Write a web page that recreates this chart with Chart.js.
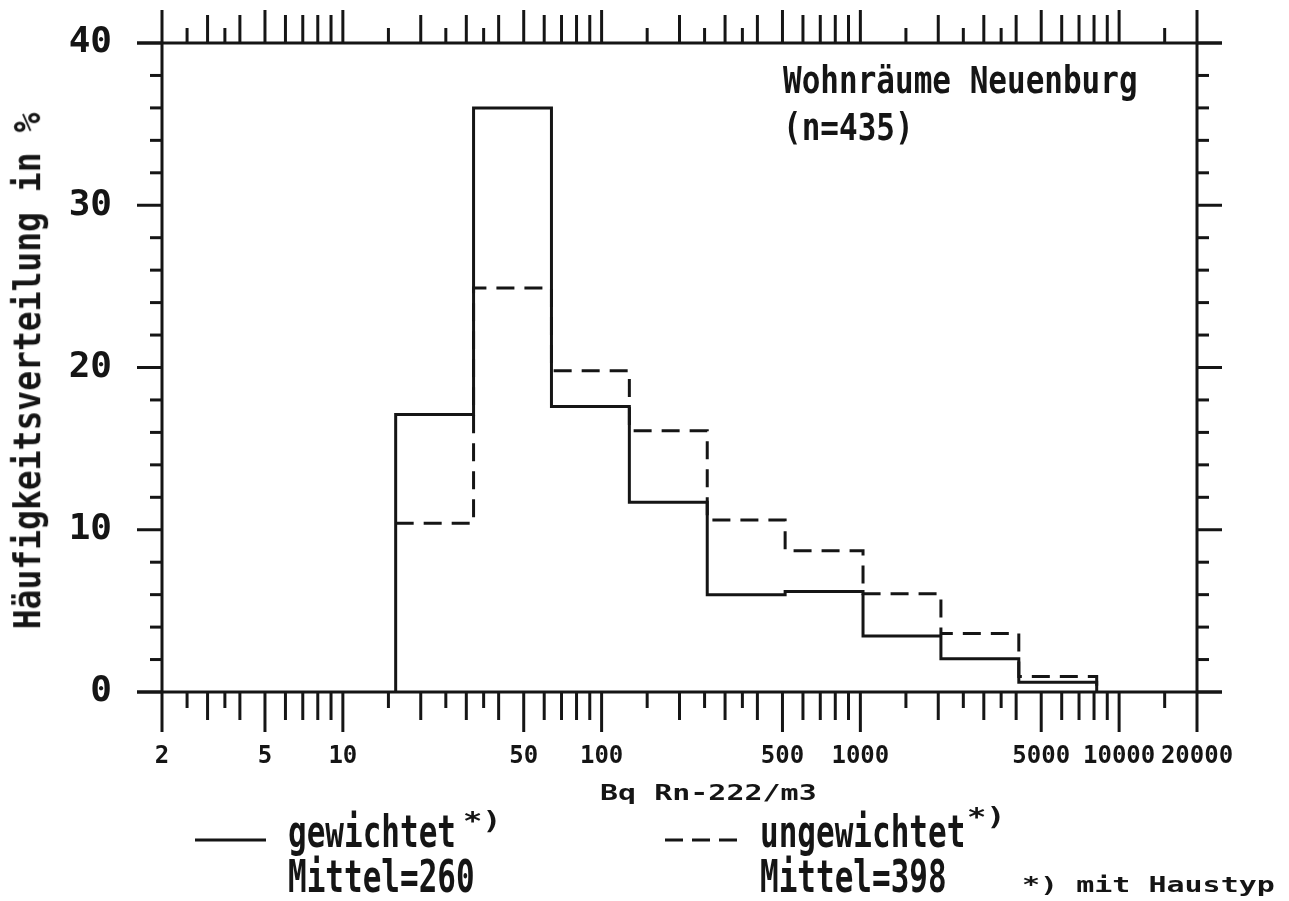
<!DOCTYPE html>
<html>
<head>
<meta charset="utf-8">
<script src="https://cdn.jsdelivr.net/npm/chart.js@4.4.1/dist/chart.umd.min.js"></script>
<style>
html,body{margin:0;padding:0;background:#fff;}
#wrap{position:relative;width:1289px;height:901px;overflow:hidden;}
canvas{position:absolute;left:0;top:0;}
svg{position:absolute;left:0;top:0;}
.t{position:absolute;font-family:"DejaVu Sans Mono",monospace;font-weight:bold;color:#151515;line-height:1;white-space:pre;transform-origin:0 0;}
.big{font-size:31px;}
.small{font-size:30px;}
</style>
</head>
<body>
<div id="wrap">
  <canvas id="c" width="1289" height="901"></canvas>
  <div class="t big" style="left:783px;top:62px;transform:scaleY(1.19)">Wohnräume Neuenburg</div>
  <div class="t big" style="left:783px;top:109px;transform:scaleY(1.19)">(n=435)</div>
  <div class="t" style="font-size:33px;left:27px;top:371px;transform-origin:50% 50%;transform:translate(-50%,-50%) rotate(-90deg) scaleY(1.12)">Häufigkeitsverteilung in %</div>
  <div class="t small" style="left:600px;top:782px;transform:scaleY(0.73)">Bq Rn-222/m3</div>
  <svg width="1289" height="901">
    <line x1="195" y1="840" x2="266" y2="840" stroke="#151515" stroke-width="3"/>
    <line x1="665" y1="840" x2="742" y2="840" stroke="#151515" stroke-width="3" stroke-dasharray="18 9"/>
  </svg>
  <div class="t big" style="left:288px;top:809px;transform:scaleY(1.45)">gewichtet</div>
  <div class="t big" style="left:288px;top:854px;transform:scaleY(1.45)">Mittel=260</div>
  <div class="t small" style="left:463px;top:807px;transform:scaleY(0.8);font-size:32px">*)</div>
  <div class="t big" style="left:760px;top:809px;transform:scaleY(1.45)">ungewichtet</div>
  <div class="t big" style="left:760px;top:854px;transform:scaleY(1.45)">Mittel=398</div>
  <div class="t small" style="left:967px;top:803px;transform:scaleY(0.8);font-size:32px">*)</div>
  <div class="t small" style="left:1022px;top:874px;transform:scaleY(0.73)">*) mit Haustyp</div>
</div>
<script>
const INK = '#151515';
const FONT = '"DejaVu Sans Mono", monospace';

// bin edges in Bq/m3 (powers of two) and frequencies in %
const binEdges = [16, 32, 64, 128, 256, 512, 1024, 2048, 4096, 8192];
const gewichtet = [17.1, 36.0, 17.6, 11.7, 6.0, 6.2, 3.45, 2.05, 0.6];
const ungewichtet = [10.4, 24.9, 19.8, 16.1, 10.6, 8.7, 6.05, 3.6, 0.95];

// axis ticks
const xLabels = [2, 5, 10, 50, 100, 500, 1000, 5000, 10000, 20000];
const xMidTicks = [3, 4, 6, 7, 8, 9, 20, 30, 40, 60, 70, 80, 90, 200, 300, 400, 600, 700, 800, 900,
  2000, 3000, 4000, 6000, 7000, 8000, 9000];
const xShortTicks = [2.5, 3.5, 15, 25, 35, 150, 250, 350, 1500, 2500, 3500, 15000];
const yLabels = [0, 10, 20, 30, 40];
const yMinorTicks = [2, 4, 6, 8, 12, 14, 16, 18, 22, 24, 26, 28, 32, 34, 36, 38];

function histPoints(values, fromZero) {
  const pts = fromZero ? [{x: binEdges[0], y: 0}] : [];
  values.forEach((v, i) => pts.push({x: binEdges[i], y: v}));
  pts.push({x: binEdges[binEdges.length - 1], y: 0});
  return pts;
}

const frame = {
  id: 'frame',
  afterDraw(chart) {
    const {ctx, scales: {x, y}} = chart;
    const top = y.getPixelForValue(40), bottom = y.getPixelForValue(0);
    const left = x.getPixelForValue(2), right = x.getPixelForValue(20000);
    ctx.save();
    ctx.strokeStyle = INK; ctx.lineWidth = 3; ctx.lineCap = 'butt';
    const seg = (x1, y1, x2, y2) => { ctx.beginPath(); ctx.moveTo(x1, y1); ctx.lineTo(x2, y2); ctx.stroke(); };
    seg(left - 25, top, right + 25, top);
    seg(left - 25, bottom, right + 25, bottom);
    seg(left, top, left, bottom);
    seg(right, top, right, bottom);
    const xt = (vals, up, down) => vals.forEach(v => {
      const px = x.getPixelForValue(v);
      seg(px, top, px, top - up);
      seg(px, bottom, px, bottom + down);
    });
    xt(xLabels, 33, 40); xt(xMidTicks, 28, 28); xt(xShortTicks, 15, 16);
    const yt = (vals, len) => vals.forEach(v => {
      const py = y.getPixelForValue(v);
      seg(left - len, py, left, py);
      seg(right, py, right + len, py);
    });
    yt(yLabels, 25); yt(yMinorTicks, 12);
    ctx.restore();
  }
};

new Chart(document.getElementById('c'), {
  type: 'line',
  data: {
    datasets: [
      {label: 'gewichtet', data: histPoints(gewichtet, true), borderColor: INK, borderWidth: 3,
       stepped: true, pointRadius: 0, fill: false},
      {label: 'ungewichtet', data: histPoints(ungewichtet, false), borderColor: INK, borderWidth: 3,
       borderDash: [18, 10], stepped: true, pointRadius: 0, fill: false}
    ]
  },
  options: {
    responsive: false, animation: false, devicePixelRatio: 1,
    layout: {padding: {left: 0, right: 92, top: 43, bottom: 129}},
    plugins: {legend: {display: false}, tooltip: {enabled: false}},
    scales: {
      x: {
        type: 'logarithmic', min: 2, max: 20000,
        grid: {display: false, drawTicks: false}, border: {display: false},
        afterBuildTicks: s => { s.ticks = xLabels.map(v => ({value: v})); },
        afterFit: s => { s.height = 80; s.paddingLeft = 0; s.paddingRight = 0; },
        ticks: {autoSkip: false, maxRotation: 0, minRotation: 0, padding: 50, color: INK,
                font: {family: FONT, weight: 'bold', size: 24}, callback: v => String(v)}
      },
      y: {
        min: 0, max: 40,
        grid: {display: false, drawTicks: false}, border: {display: false},
        afterBuildTicks: s => { s.ticks = yLabels.map(v => ({value: v})); },
        afterFit: s => { s.width = 162; s.paddingTop = 0; s.paddingBottom = 0; },
        ticks: {padding: 50, color: INK, font: {family: FONT, weight: 'bold', size: 36}}
      }
    }
  },
  plugins: [frame]
});
</script>
</body>
</html>
